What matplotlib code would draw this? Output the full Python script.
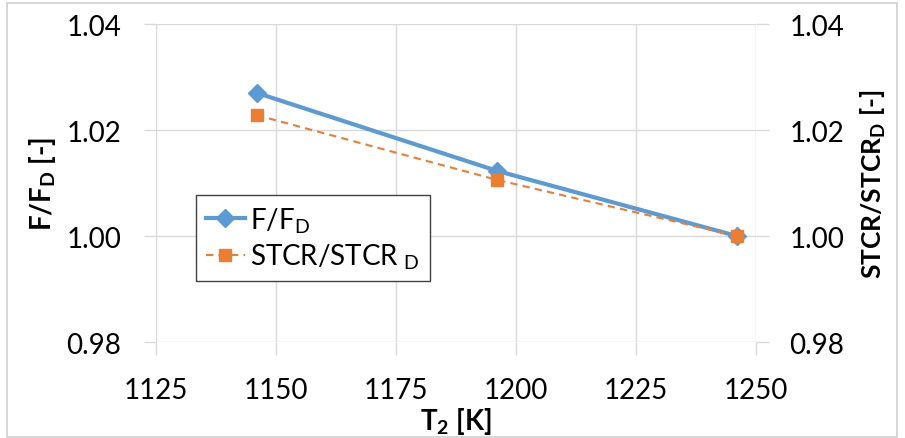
import matplotlib
matplotlib.use("Agg")
import matplotlib.pyplot as plt
from matplotlib.patches import Rectangle

# Data
t2 = [1146, 1196, 1246]
f_ratio = [1.0270, 1.0123, 1.0000]
stcr_ratio = [1.0228, 1.0106, 1.0000]
x_ticks = [1125, 1150, 1175, 1200, 1225, 1250]
y_ticks = [0.98, 1.00, 1.02, 1.04]

plt.rcParams['font.family'] = ['Lato', 'DejaVu Sans']
plt.rcParams['mathtext.fontset'] = 'custom'
plt.rcParams['mathtext.rm'] = 'Lato'
plt.rcParams['mathtext.bf'] = 'Lato:bold'

fig = plt.figure(figsize=(9.05, 4.39), dpi=100)
ax = fig.add_axes([156/905, 1 - 343/439, 600/905, 318/439])

blue = '#5B9BD5'
orange = '#ED7D31'
grid = '#D9D9D9'

ax.plot(t2, f_ratio, color=blue, lw=3.0, marker='D', ms=9, label='F/F$_\\mathregular{D}$', zorder=3)
ax.plot(t2, stcr_ratio, color=orange, lw=1.5, ls=(0, (3.5, 2.5)), marker='s', ms=9,
        label='STCR/STCR$_\\mathregular{\\ D}$', zorder=4)

ax.set_xlim(1125, 1250)
ax.set_ylim(0.98, 1.04)
ax.set_xticks(x_ticks)
ax.set_yticks(y_ticks)
ax.set_yticklabels([f"{v:.2f}" for v in y_ticks])
ax.grid(True, color=grid, lw=1)
ax.set_axisbelow(True)
for s in ax.spines.values():
    s.set_visible(False)
ax.tick_params(axis='both', which='both', color=grid, length=9, width=1, labelsize=20, labelcolor='black')
ax.tick_params(axis='x', pad=16)
ax.tick_params(axis='y', pad=16)

ax2 = ax.twinx()
ax2.set_ylim(0.98, 1.04)
ax2.set_yticks(y_ticks)
ax2.set_yticklabels([f"{v:.2f}" for v in y_ticks])
for s in ax2.spines.values():
    s.set_visible(False)
ax2.tick_params(axis='y', length=9, width=1, labelsize=20, pad=15, color=grid, labelcolor='black')

ax.set_xlabel('T$_\\mathbf{2}$ [K]', fontsize=20, fontweight='bold', labelpad=2)
ax.set_ylabel('F/F$_\\mathbf{D}$ [-]', fontsize=20, fontweight='bold', labelpad=6)
ax2.set_ylabel('STCR/STCR$_\\mathbf{D}$ [-]', fontsize=19, fontweight='bold', labelpad=10)

leg = ax.legend(loc='upper left', bbox_to_anchor=((196-156)/600, (343-196)/318),
                fontsize=20, frameon=True, fancybox=False, framealpha=1,
                edgecolor='#404040', handlelength=1.4, handletextpad=0.2,
                borderpad=0.35, labelspacing=0.25, borderaxespad=0)
leg.get_frame().set_linewidth(1.0)

fig.patches.append(Rectangle((7/905, 1/439), 890/905, 434/439, transform=fig.transFigure,
                             fill=False, edgecolor='#D0D0D0', lw=1.2))

fig.savefig('out.png', dpi=100)
